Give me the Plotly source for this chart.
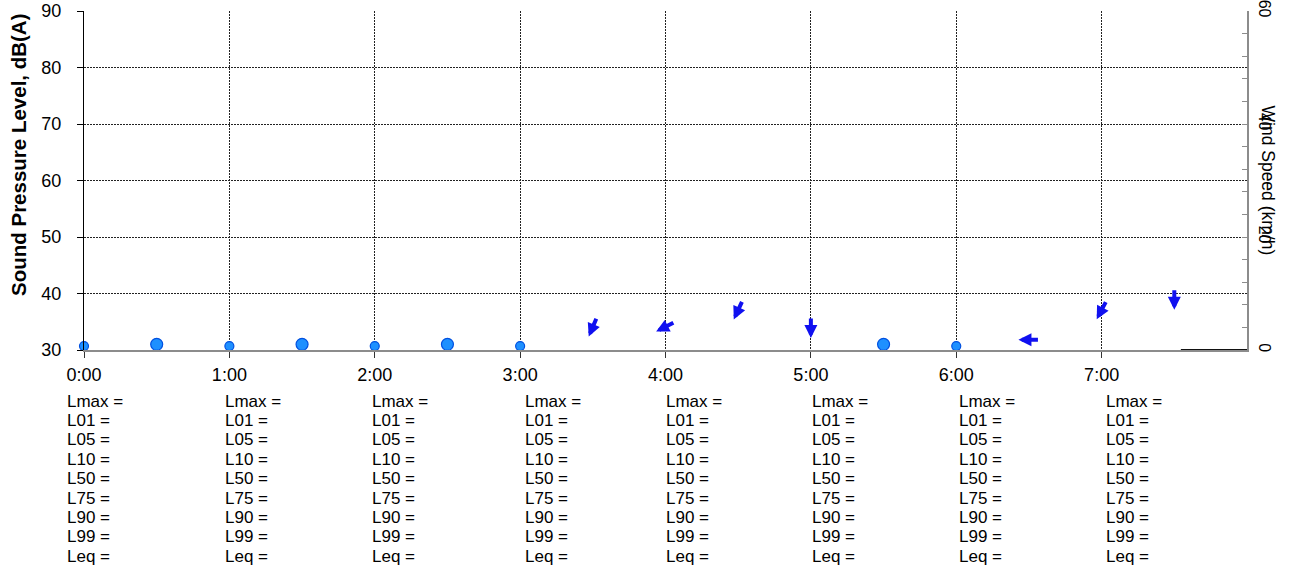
import math
import plotly.graph_objects as go

# ---- data -------------------------------------------------------------
hour_ticks = [0, 1, 2, 3, 4, 5, 6, 7]
hour_labels = ["0:00", "1:00", "2:00", "3:00", "4:00", "5:00", "6:00", "7:00"]

# calm-wind markers (wind speed, km/h)
calm_small_time = [0.0, 1.0, 2.0, 3.0, 6.0]
calm_small_speed = [0.7, 0.7, 0.7, 0.7, 0.7]
calm_large_time = [0.5, 1.5, 2.5, 5.5]
calm_large_speed = [1.0, 1.0, 1.0, 1.0]

# wind vectors: time (h), speed (km/h), direction wind blows from (deg)
wind_time = [3.5, 4.0, 4.5, 5.0, 6.5, 7.0, 7.5]
wind_speed = [4.1, 4.1, 7.1, 4.0, 1.8, 7.1, 9.0]
wind_from_deg = [23, 63, 25, 0, 90, 28, 0]

# wind speed trace at the end of the period
wind_line_time = [7.545, 8.0]
wind_line_speed = [0.0, 0.0]

# sound level series (no readings logged for this period)
spl_time = []
spl_level = []

spl_ticks = [30, 40, 50, 60, 70, 80, 90]
wind_ticks = [0, 20, 40, 60]

stat_labels = ["Lmax =", "L01 =", "L05 =", "L10 =", "L50 =", "L75 =", "L90 =", "L99 =", "Leq ="]

# ---- layout constants -------------------------------------------------
W, H = 1290, 571
ML, MR, MT, MB = 84, 43, 11, 221
PW, PH = W - ML - MR, H - MT - MB
FONT = "Arial, Liberation Sans, sans-serif"
ARROW_LEN = 21
ARROW_COLOR = "#1010F0"
stat_col_px = [65, 223, 370, 523, 664, 810, 957, 1104]
stat_row0_px = 401
stat_row_step = 19.4


def paper_x(px):
    return (px - ML) / PW


def paper_y(py):
    return (H - MB - py) / PH


fig = go.Figure()

fig.add_trace(go.Scatter(
    x=spl_time, y=spl_level, yaxis="y", mode="lines",
    line=dict(color="#000000", width=1), showlegend=False))

fig.add_trace(go.Scatter(
    x=wind_line_time, y=wind_line_speed, yaxis="y2", mode="lines",
    line=dict(color="#111111", width=2), hoverinfo="skip", showlegend=False))

fig.add_trace(go.Scatter(
    x=calm_small_time, y=calm_small_speed, yaxis="y2", mode="markers",
    marker=dict(size=9, color="#1E90FF", line=dict(color="#0050E0", width=1.2)),
    cliponaxis=False, showlegend=False))
fig.add_trace(go.Scatter(
    x=calm_large_time, y=calm_large_speed, yaxis="y2", mode="markers",
    marker=dict(size=12, color="#1E90FF", line=dict(color="#0050E0", width=1.2)),
    cliponaxis=False, showlegend=False))

annotations = []

# wind direction arrows, centred on (time, speed)
for t, s, d in zip(wind_time, wind_speed, wind_from_deg):
    b = math.radians(d + 180)
    vx, vy = math.sin(b), -math.cos(b)  # screen direction, y down
    annotations.append(dict(
        x=t, y=s, xref="x", yref="y2", text="", showarrow=True,
        ax=-vx * ARROW_LEN, ay=-vy * ARROW_LEN,
        xshift=vx * ARROW_LEN / 2, yshift=-vy * ARROW_LEN / 2,
        arrowhead=2, arrowsize=0.65, arrowwidth=4, arrowcolor=ARROW_COLOR))

# statistics table under the axis
for cx in stat_col_px:
    for i, lab in enumerate(stat_labels):
        annotations.append(dict(
            x=paper_x(cx), y=paper_y(stat_row0_px + i * stat_row_step),
            xref="paper", yref="paper", text=lab, showarrow=False,
            xanchor="left", yanchor="middle",
            font=dict(family=FONT, size=17, color="#000000")))

# axis titles
annotations.append(dict(
    x=paper_x(18), y=paper_y(155), xref="paper", yref="paper",
    text="<b>Sound Pressure Level, dB(A)</b>", textangle=-90, showarrow=False,
    xanchor="center", yanchor="middle",
    font=dict(family=FONT, size=20.5, color="#000000")))
annotations.append(dict(
    x=paper_x(1268), y=paper_y(MT + PH / 2), xref="paper", yref="paper",
    text="Wind Speed (km/h)", textangle=90, showarrow=False,
    xanchor="center", yanchor="middle",
    font=dict(family=FONT, size=17.5, color="#000000")))

fig.update_layout(
    width=W, height=H,
    margin=dict(l=ML, r=MR, t=MT, b=MB, pad=0, autoexpand=False),
    paper_bgcolor="white", plot_bgcolor="white",
    showlegend=False,
    font=dict(family=FONT, color="#000000"),
    xaxis=dict(
        range=[0, 8], tickvals=hour_ticks, ticktext=hour_labels,
        showgrid=True, gridcolor="#222222", griddash="2px,1px", gridwidth=1,
        showline=True, linecolor="#8c8c8c", linewidth=2,
        ticks="outside", ticklen=6, tickcolor="#333333",
        ticklabelstandoff=1, automargin=False,
        tickfont=dict(family=FONT, size=18), zeroline=False),
    yaxis=dict(
        range=[30, 90], tickvals=spl_ticks,
        showgrid=True, gridcolor="#222222", griddash="2px,1px", gridwidth=1,
        showline=True, linecolor="#000000", linewidth=1,
        ticks="outside", ticklen=6, tickcolor="#000000",
        ticklabelstandoff=12, automargin=False,
        tickfont=dict(family=FONT, size=18), zeroline=False),
    yaxis2=dict(
        range=[0, 60], tickvals=wind_ticks, overlaying="y", side="right",
        showgrid=False, zeroline=False,
        showline=True, linecolor="#8c8c8c", linewidth=2,
        ticks="inside", ticklen=5, tickcolor="#8c8c8c",
        minor=dict(dtick=4, tick0=0, ticks="inside", ticklen=5, tickcolor="#8c8c8c"),
        tickangle=90, ticklabelstandoff=4, ticklabeloverflow="allow",
        automargin=False,
        tickfont=dict(family=FONT, size=16)),
    annotations=annotations,
)

fig.write_html("out.html")
